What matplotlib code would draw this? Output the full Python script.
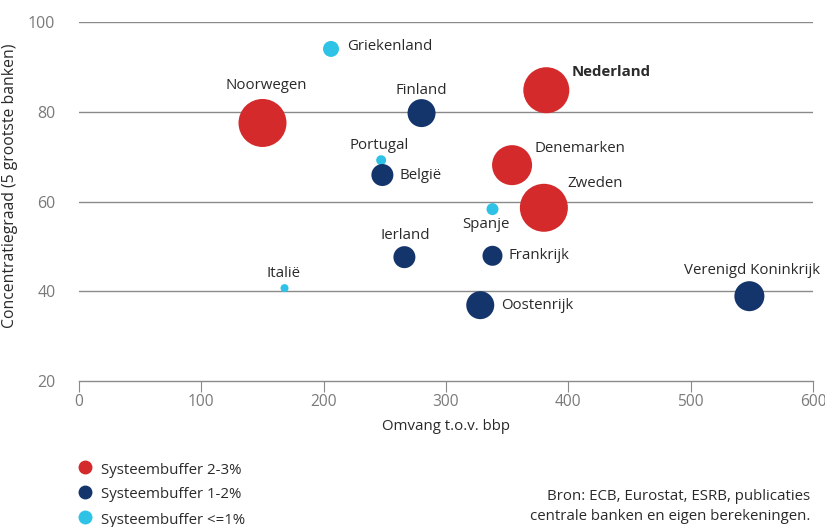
import matplotlib
matplotlib.use("Agg")
import matplotlib.pyplot as plt

countries = ["Griekenland", "Noorwegen", "Finland", "Nederland", "Portugal", "België",
             "Denemarken", "Zweden", "Spanje", "Ierland", "Frankrijk", "Italië",
             "Oostenrijk", "Verenigd Koninkrijk"]
omvang = [206, 150, 280, 382, 247, 248, 354, 380, 338, 266, 338, 168, 328, 548]
concentratie = [94.0, 77.5, 79.7, 84.8, 69.2, 65.9, 68.1, 58.6, 58.3, 47.6, 47.9, 40.7, 36.9, 38.9]
bubble = [8, 24, 14, 23, 5, 11, 20, 24, 6, 11, 10, 4, 14, 15]
group = ["low", "high", "mid", "high", "low", "mid", "high", "high", "low", "mid", "mid", "low", "mid", "mid"]

group_labels = {"high": "Systeembuffer 2-3%", "mid": "Systeembuffer 1-2%", "low": "Systeembuffer <=1%"}
colors = {"high": "#d42a2c", "mid": "#14346c", "low": "#2ec3e6"}

# label placement: (dx px, dy px, ha, va)
label_pos = {
    "Griekenland": (16, 2, "left", "center"),
    "Noorwegen": (4, 37, "center", "center"),
    "Finland": (0, 23, "center", "center"),
    "Nederland": (25, 18, "left", "center"),
    "Portugal": (-2, 15, "center", "center"),
    "België": (17, 0, "left", "center"),
    "Denemarken": (22, 17, "left", "center"),
    "Zweden": (24, 24, "left", "center"),
    "Spanje": (-7, -15, "center", "center"),
    "Ierland": (1, 22, "center", "center"),
    "Frankrijk": (16, 0, "left", "center"),
    "Italië": (-1, 15, "center", "center"),
    "Oostenrijk": (21, 0, "left", "center"),
    "Verenigd Koninkrijk": (3, 26, "center", "center"),
}

FS = 10.8
plt.rcParams["font.family"] = ["Open Sans", "DejaVu Sans"]
fig = plt.figure(figsize=(8.25, 5.27), dpi=100)
ax = fig.add_axes([79 / 825, 1 - 381 / 527, (813 - 79) / 825, (381 - 22) / 527])

ax.set_xlim(0, 600)
ax.set_ylim(20, 100)
for yv in [40, 60, 80, 100]:
    ax.axhline(yv, color="#8a8a8a", lw=1.0, zorder=1)

for i, c in enumerate(countries):
    r = bubble[i]
    s = (2 * r * 0.72) ** 2
    ax.scatter(omvang[i], concentratie[i], s=s, color=colors[group[i]], edgecolors="none", zorder=3)
    dx, dy, ha, va = label_pos[c]
    ax.annotate(c, (omvang[i], concentratie[i]), xytext=(dx, dy), textcoords="offset pixels",
                ha=ha, va=va, fontsize=FS, color="#2a2a2a",
                fontweight="bold" if c == "Nederland" else "normal", zorder=4)

for sp in ["top", "right", "left"]:
    ax.spines[sp].set_visible(False)
ax.spines["bottom"].set_color("#8a8a8a")
ax.spines["bottom"].set_linewidth(1.0)
ax.set_xticks([0, 100, 200, 300, 400, 500, 600])
ax.set_yticks([20, 40, 60, 80, 100])
ax.tick_params(axis="x", direction="out", length=8, color="#8a8a8a", labelcolor="#7a7a7a", labelsize=11.2, pad=1)
ax.tick_params(axis="y", length=0, labelcolor="#7a7a7a", labelsize=11.5, pad=17)
ax.set_xlabel("Omvang t.o.v. bbp", fontsize=FS, color="#2a2a2a", labelpad=7)
ax.set_ylabel("Concentratiegraad (5 grootste banken)", fontsize=11.3, color="#2a2a2a")
ax.yaxis.set_label_coords(18 / 825, 1 - 186 / 527, transform=fig.transFigure)

# legend
for j, g in enumerate(["high", "mid", "low"]):
    ypix = 470 + j * 25
    fig.text(101 / 825, 1 - ypix / 527, group_labels[g], fontsize=FS, color="#2a2a2a", va="center", ha="left")
    fig.lines.append(plt.Line2D([85 / 825], [1 - (ypix - 3) / 527], marker="o", markersize=9,
                                color=colors[g], transform=fig.transFigure, linestyle="none"))

fig.text(810 / 825, 1 - 497 / 527, "Bron: ECB, Eurostat, ESRB, publicaties", fontsize=FS,
         color="#2a2a2a", ha="right", va="center")
fig.text(810 / 825, 1 - 517 / 527, "centrale banken en eigen berekeningen.", fontsize=FS,
         color="#2a2a2a", ha="right", va="center")

fig.savefig("out.png", dpi=100)
